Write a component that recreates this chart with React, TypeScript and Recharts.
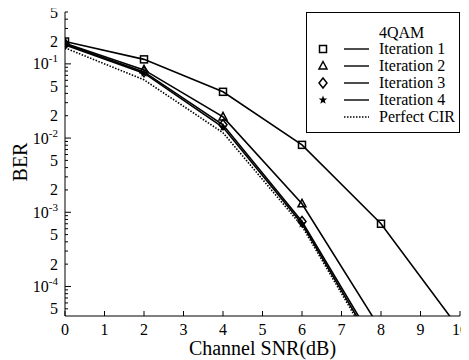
import React from 'react';
import { LineChart, Line, XAxis, YAxis, Legend } from 'recharts';

// ---- data ----
const snr = [0, 2, 4, 6, 8, 10];
const iter1 = [0.2, 0.115, 0.042, 0.0081, 0.0007, 0.000026];
const iter2 = [0.19, 0.083, 0.0193, 0.0013, 0.000026, null];
const iter3 = [0.185, 0.078, 0.0151, 0.00075, 0.0000124, null];
const iter4 = [0.18, 0.075, 0.014, 0.0007, 0.000011, null];
const perfect = [0.164, 0.061, 0.0118, 0.00065, 0.00001, null];

const seriesKeys = ['iter1', 'iter2', 'iter3', 'iter4', 'perfect'];
const seriesNames = ['Iteration 1', 'Iteration 2', 'Iteration 3', 'Iteration 4', 'Perfect CIR'];
const seriesMarkers = ['square', 'triangle', 'diamond', 'star', 'none'];
const legendTitle = '4QAM';

const xTicks = [0, 1, 2, 3, 4, 5, 6, 7, 8, 9, 10];
const yTicks = [
  0.5, 0.4, 0.3, 0.2, 0.1,
  0.09, 0.08, 0.07, 0.06, 0.05, 0.04, 0.03, 0.02, 0.01,
  0.009, 0.008, 0.007, 0.006, 0.005, 0.004, 0.003, 0.002, 0.001,
  0.0009, 0.0008, 0.0007, 0.0006, 0.0005, 0.0004, 0.0003, 0.0002, 0.0001,
  0.00009, 0.00008, 0.00007, 0.00006, 0.00005,
];
const yDomain = [0.00004, 0.5];
const xDomain = [0, 10];

const data = snr.map((x, i) => ({
  snr: x,
  iter1: iter1[i],
  iter2: iter2[i],
  iter3: iter3[i],
  iter4: iter4[i],
  perfect: perfect[i],
}));

const FONT = '"Liberation Serif", "Times New Roman", serif';

function splitTick(v: number) {
  const exp = Math.floor(Math.log10(v) + 1e-9);
  const mant = Math.round(v / Math.pow(10, exp));
  return { exp, mant };
}

const LeftYTick = (props: any) => {
  const { x, y, payload } = props;
  const { exp, mant } = splitTick(payload.value);
  const decade = mant === 1;
  const labeled = mant === 1 || mant === 2 || mant === 5;
  return (
    <g>
      <line x1={x} x2={x + (decade ? 6 : 3)} y1={y} y2={y} stroke="#000" strokeWidth={1} />
      {labeled &&
        (decade ? (
          <text x={x - 7} y={y + 5.5} textAnchor="end" fontSize={16} fontFamily={FONT} fill="#000">
            <tspan>10</tspan>
            <tspan dy={-7} fontSize={11}>{String(exp)}</tspan>
          </text>
        ) : (
          <text x={x - 7} y={y + 5.5} textAnchor="end" fontSize={16} fontFamily={FONT} fill="#000">
            {String(mant)}
          </text>
        ))}
    </g>
  );
};

const RightYTick = (props: any) => {
  const { x, y, payload } = props;
  const { mant } = splitTick(payload.value);
  const decade = mant === 1;
  return <line x1={x} x2={x - (decade ? 6 : 3)} y1={y} y2={y} stroke="#000" strokeWidth={1} />;
};

const BottomXTick = (props: any) => {
  const { x, y, payload } = props;
  return (
    <g>
      <line x1={x} x2={x} y1={y} y2={y - 5} stroke="#000" strokeWidth={1} />
      <text x={x} y={y + 19} textAnchor="middle" fontSize={16} fontFamily={FONT} fill="#000">
        {String(payload.value)}
      </text>
    </g>
  );
};

const TopXTick = (props: any) => {
  const { x, y } = props;
  return <line x1={x} x2={x} y1={y} y2={y + 5} stroke="#000" strokeWidth={1} />;
};

const Marker = ({ type, cx, cy }: { type: string; cx: number; cy: number }) => {
  if (type === 'square') {
    return <rect x={cx - 3.5} y={cy - 3.5} width={7} height={7} fill="none" stroke="#000" strokeWidth={1.5} />;
  }
  if (type === 'triangle') {
    return (
      <polygon
        points={`${cx},${cy - 4.5} ${cx + 4},${cy + 3} ${cx - 4},${cy + 3}`}
        fill="none"
        stroke="#000"
        strokeWidth={1.5}
      />
    );
  }
  if (type === 'diamond') {
    return (
      <polygon
        points={`${cx},${cy - 5} ${cx + 4},${cy} ${cx},${cy + 5} ${cx - 4},${cy}`}
        fill="none"
        stroke="#000"
        strokeWidth={1.5}
      />
    );
  }
  if (type === 'star') {
    const pts: string[] = [];
    for (let i = 0; i < 10; i++) {
      const r = i % 2 === 0 ? 4.5 : 1.9;
      const a = -Math.PI / 2 + (i * Math.PI) / 5;
      pts.push(`${cx + r * Math.cos(a)},${cy + r * Math.sin(a)}`);
    }
    return <polygon points={pts.join(' ')} fill="#000" stroke="none" />;
  }
  return null;
};

const makeDot = (type: string) => (p: any) => {
  const key = `${type}-${p.index}`;
  if (type === 'none' || p.cx == null || p.cy == null || p.value == null) return <g key={key} />;
  return (
    <g key={key}>
      <Marker type={type} cx={p.cx} cy={p.cy} />
    </g>
  );
};

const LegendBox = () => {
  const rowY = [36, 53, 70, 87, 104];
  return (
    <div
      style={{
        width: '100%',
        height: '100%',
        boxSizing: 'border-box',
        border: '1px solid #000',
        background: '#fff',
      }}
    >
      <svg width={152} height={119} style={{ display: 'block' }}>
        <text x={72} y={25} fontSize={16} fontFamily={FONT} fill="#000">
          {legendTitle}
        </text>
        {seriesNames.map((name, i) => (
          <g key={name}>
            <Marker type={seriesMarkers[i]} cx={16} cy={rowY[i]} />
            <line
              x1={37}
              x2={62}
              y1={rowY[i]}
              y2={rowY[i]}
              stroke="#000"
              strokeWidth={1.4}
              strokeDasharray={seriesKeys[i] === 'perfect' ? '1.5 1.5' : undefined}
            />
            <text x={72} y={rowY[i] + 5} fontSize={16} fontFamily={FONT} fill="#000">
              {name}
            </text>
          </g>
        ))}
      </svg>
    </div>
  );
};

const XLabel = (props: any) => {
  const vb = props.viewBox || {};
  return (
    <text
      x={vb.x + vb.width / 2}
      y={vb.y + 39}
      textAnchor="middle"
      fontSize={20}
      fontFamily={FONT}
      fill="#000"
    >
      Channel SNR(dB)
    </text>
  );
};

const YLabel = (props: any) => {
  const vb = props.viewBox || {};
  const cx = vb.x + 27;
  const cy = vb.y + vb.height / 2 - 2;
  return (
    <text
      x={cx}
      y={cy}
      transform={`rotate(-90, ${cx}, ${cy})`}
      textAnchor="middle"
      fontSize={20}
      fontFamily={FONT}
      fill="#000"
    >
      BER
    </text>
  );
};

export default function App() {
  return (
    <div style={{ width: 469, height: 360, margin: '-8px 0 0 -8px', background: '#fff' }}>
      <LineChart
        width={469}
        height={360}
        data={data}
        margin={{ top: 12, right: 9, bottom: 0, left: 0 }}
        style={{ fontFamily: FONT }}
      >
        <XAxis
          xAxisId="bottom"
          dataKey="snr"
          type="number"
          domain={xDomain}
          ticks={xTicks}
          allowDataOverflow
          height={44}
          tickSize={0}
          tickMargin={0}
          tickLine={false}
          tick={<BottomXTick />}
          axisLine={{ stroke: '#000', strokeWidth: 1 }}
          interval={0}
          label={XLabel}
        />
        <XAxis
          xAxisId="top"
          orientation="top"
          dataKey="snr"
          type="number"
          domain={xDomain}
          ticks={xTicks}
          allowDataOverflow
          height={0}
          tickSize={0}
          tickMargin={0}
          tickLine={false}
          tick={<TopXTick />}
          axisLine={{ stroke: '#000', strokeWidth: 1 }}
          interval={0}
        />
        <YAxis
          yAxisId="left"
          type="number"
          scale="log"
          domain={yDomain}
          ticks={yTicks}
          allowDataOverflow
          width={65}
          tickSize={0}
          tickMargin={0}
          tickLine={false}
          tick={<LeftYTick />}
          axisLine={{ stroke: '#000', strokeWidth: 1 }}
          interval={0}
          label={YLabel}
        />
        <YAxis
          yAxisId="right"
          orientation="right"
          type="number"
          scale="log"
          domain={yDomain}
          ticks={yTicks}
          allowDataOverflow
          width={0}
          tickSize={0}
          tickMargin={0}
          tickLine={false}
          tick={<RightYTick />}
          axisLine={{ stroke: '#000', strokeWidth: 1 }}
          interval={0}
        />
        {seriesKeys.map((k, i) => (
          <Line
            key={k}
            xAxisId="bottom"
            yAxisId="left"
            dataKey={k}
            name={seriesNames[i]}
            type="linear"
            stroke="#000"
            strokeWidth={1.6}
            strokeDasharray={k === 'perfect' ? '1.5 1.5' : undefined}
            dot={makeDot(seriesMarkers[i])}
            activeDot={false}
            isAnimationActive={false}
            connectNulls={false}
          />
        ))}
        <Legend
          layout="vertical"
          align="center"
          verticalAlign="middle"
          wrapperStyle={{ left: 306, top: 12, width: 154, height: 121, right: 'auto', bottom: 'auto', margin: 0 }}
          content={() => <LegendBox />}
        />
      </LineChart>
    </div>
  );
}
